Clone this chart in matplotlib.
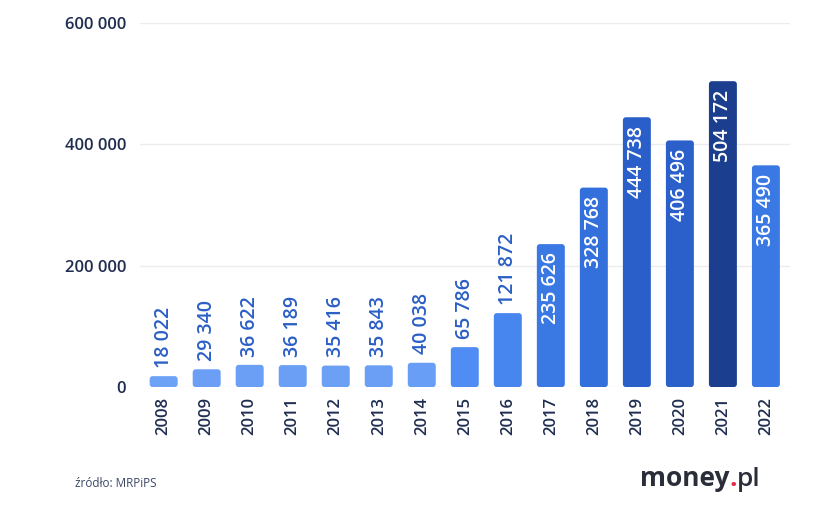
import matplotlib.pyplot as plt
from matplotlib.patches import FancyBboxPatch
from matplotlib.ticker import FuncFormatter

years = ['2008', '2009', '2010', '2011', '2012', '2013', '2014', '2015',
         '2016', '2017', '2018', '2019', '2020', '2021', '2022']
values = [18022, 29340, 36622, 36189, 35416, 35843, 40038, 65786,
          121872, 235626, 328768, 444738, 406496, 504172, 365490]
bar_colors = ['#6da2f6', '#6a9ff5', '#6a9ff5', '#6a9ff5', '#6ba0f5', '#6a9ff5',
              '#689ef5', '#4f8cf3', '#4886ef', '#3a78e3', '#3470dc', '#2a5fca',
              '#2b60cb', '#1b3f8e', '#3a79e3']

plt.rcParams['font.family'] = ['Open Sans', 'DejaVu Sans']

fig = plt.figure(figsize=(8.14, 5.12), dpi=100)
ax = fig.add_axes([0.172, 0.244, 0.798, 0.711])

bars = ax.bar(range(len(years)), values, width=0.65, color=bar_colors, zorder=2)

# swap the plain rectangles for slightly rounded ones
for b in bars:
    x, w, h = b.get_x(), b.get_width(), b.get_height()
    patch = FancyBboxPatch((x, 0), w, h,
                           boxstyle='round,pad=0,rounding_size=0.07',
                           mutation_aspect=70000,
                           facecolor=b.get_facecolor(), edgecolor='none', zorder=2)
    b.set_visible(False)
    ax.add_patch(patch)

for i, v in enumerate(values):
    txt = f'{v:,}'.replace(',', ' ')
    if v >= 200000:
        ax.annotate(txt, (i, v), xytext=(0, -6), textcoords='offset points',
                    rotation=90, ha='center', va='top', color='white',
                    fontsize=14, fontweight='semibold', zorder=3)
    else:
        ax.annotate(txt, (i, v), xytext=(0, 6), textcoords='offset points',
                    rotation=90, ha='center', va='bottom', color='#2b5fc6',
                    fontsize=14, fontweight='semibold', zorder=3)

ax.set_ylim(0, 600000)
ax.set_xlim(-0.55, len(years) - 0.45)
ax.set_yticks([0, 200000, 400000, 600000])
ax.yaxis.set_major_formatter(FuncFormatter(lambda y, p: f'{int(y):,}'.replace(',', ' ')))
ax.set_xticks(range(len(years)))
ax.set_xticklabels(years, rotation=90)
ax.tick_params(axis='both', length=0, labelsize=12, labelcolor='#1f2d50')
for lbl in ax.get_xticklabels() + ax.get_yticklabels():
    lbl.set_fontweight('semibold')
ax.tick_params(axis='y', pad=10)
ax.tick_params(axis='x', pad=7)
ax.grid(axis='y', color='#ebebf0', linewidth=1, zorder=0)
for s in ax.spines.values():
    s.set_visible(False)

fig.text(0.092, 0.048, 'źródło: MRPiPS', fontsize=8.5, color='#3c4868')

logo = fig.text(0.786, 0.05, 'money', fontsize=19, fontweight='bold', color='#2a2e38')
dot = ax.annotate('.', xy=(1, 0), xycoords=logo, fontsize=19, fontweight='bold',
                  color='#e8294a', va='bottom')
ax.annotate('pl', xy=(1, 0), xycoords=dot, fontsize=19, fontweight='semibold',
            color='#2a2e38', va='bottom')

fig.savefig('out.png', dpi=100)
